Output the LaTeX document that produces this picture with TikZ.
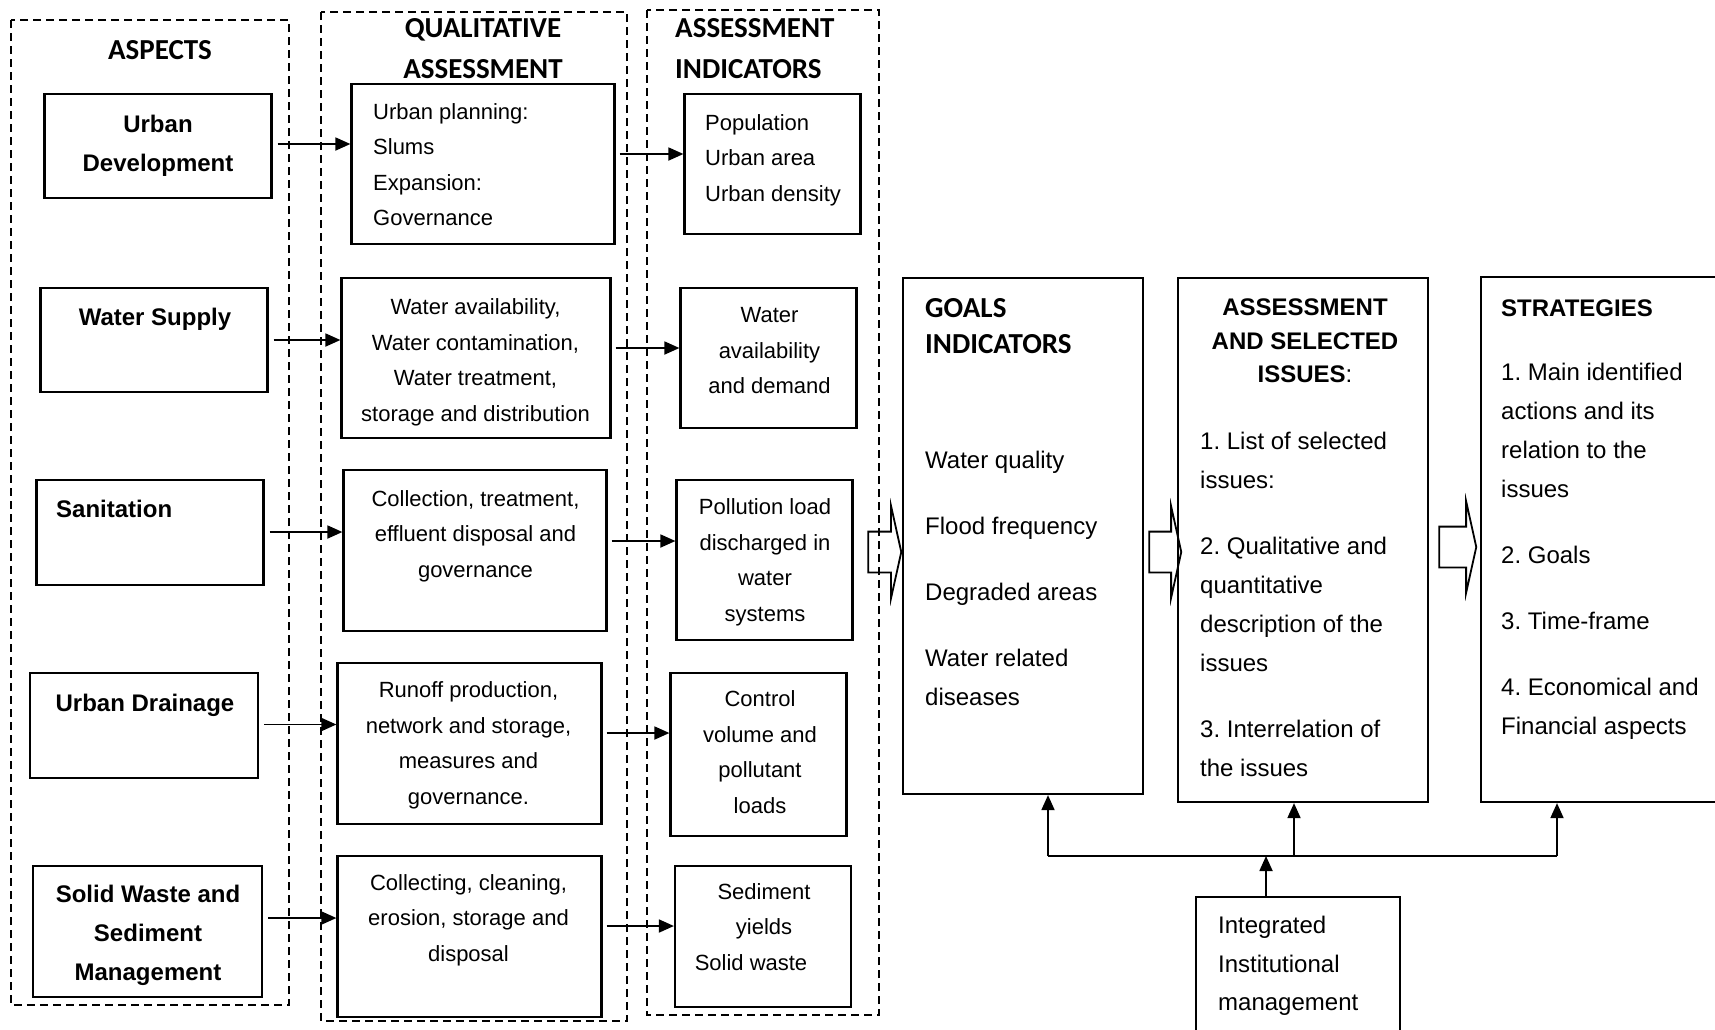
\documentclass[tikz,border=0pt]{standalone}
\usepackage{fontspec}
\setmainfont{Liberation Sans}
\newfontfamily\calibfont{Carlito}
\usetikzlibrary{arrows.meta, shapes.arrows}
\frenchspacing

\begin{document}
\begin{tikzpicture}[x=1pt, y=-1pt,
    box/.style={draw, line width=2.2pt, inner sep=0pt},
    group/.style={draw, line width=1.4pt, dash pattern=on 8pt off 5pt},
    arr/.style={-{Triangle[length=15pt, width=13pt]}, line width=1.8pt},
    blk/.style={single arrow, draw, line width=1.8pt, inner xsep=0pt, inner ysep=19.5pt,
        single arrow head extend=25.5pt, single arrow tip angle=155},
    lbl/.style={inner sep=0pt, execute at begin node=\strut, execute at end node=\strut},
    head/.style={lbl, font=\calibfont\bfseries\fontsize{29}{41}\selectfont, align=center},
    bold/.style={lbl, font=\bfseries\fontsize{24}{39}\selectfont, align=center},
    small/.style={lbl, font=\fontsize{22}{35.5}\selectfont, align=center},
    big/.style={lbl, font=\fontsize{24}{39}\selectfont, align=left},
]
    \useasboundingbox (0,0) rectangle (1715,1029);
    \clip (0,0) rectangle (1715,1029);

    % Dashed columns
    \draw[group] (11,20) rectangle (289,1005);
    \draw[group] (321,12) rectangle (627,1021);
    \draw[group] (647,10) rectangle (879,1015);
    \node[head] (ttl-asp) at (160,51) {ASPECTS};
    \node[head] (ttl-qual) at (483,55) {QUALITATIVE\\ASSESSMENT};
    \node[head, align=left, anchor=west] (ttl-ind) at (675,55) {ASSESSMENT\\INDICATORS};

    % Aspects
    \node[box, minimum width=227pt, minimum height=104pt] (urb) at (158,146) {};
    \node[box, minimum width=227pt, minimum height=104pt] (wat) at (154,340) {};
    \node[box, minimum width=227pt, minimum height=105pt] (san) at (150,532.5) {};
    \node[box, minimum width=228pt, minimum height=105pt] (drn) at (144,725.5) {};
    \node[box, minimum width=229pt, minimum height=131pt] (sol) at (147.5,931.5) {};
    \node[bold] (urb-t) at (158,149) {Urban\\Development};
    \node[bold] (wat-t) at (155,318) {Water Supply};
    \node[bold, anchor=west] (san-t) at (56,510) {Sanitation};
    \node[bold] (drn-t) at (145,704) {Urban Drainage};
    \node[bold] (sol-t) at (148,939) {Solid Waste and\\Sediment\\Management};

    % Qualitative assessment
    \node[box, minimum width=263pt, minimum height=160pt] (qurb) at (483,164) {};
    \node[box, minimum width=269pt, minimum height=160pt] (qwat) at (476,358) {};
    \node[box, minimum width=263pt, minimum height=161pt] (qsan) at (475,550.5) {};
    \node[box, minimum width=264pt, minimum height=161pt] (qdrn) at (469.5,743.5) {};
    \node[box, minimum width=264pt, minimum height=161pt] (qsol) at (469.5,936.5) {};
    \node[small, align=left, anchor=west] (qurb-t) at (373,170) {Urban planning:\\Slums\\Expansion:\\Governance};
    \node[small] (qwat-t) at (475.5,365.5) {Water availability,\\Water contamination,\\Water treatment,\\storage and distribution};
    \node[small] (qsan-t) at (475.5,539) {Collection, treatment,\\effluent disposal and\\governance};
    \node[small] (qdrn-t) at (468.5,748.5) {Runoff production,\\network and storage,\\measures and\\governance.};
    \node[small] (qsol-t) at (468.5,923) {Collecting, cleaning,\\erosion, storage and\\disposal};

    % Assessment indicators
    \node[box, minimum width=176pt, minimum height=140pt] (iurb) at (772.5,164) {};
    \node[box, minimum width=176pt, minimum height=140pt] (iwat) at (768.5,358) {};
    \node[box, minimum width=176pt, minimum height=160pt] (isan) at (764.5,560) {};
    \node[box, minimum width=176pt, minimum height=163pt] (idrn) at (758.5,754.5) {};
    \node[box, minimum width=176pt, minimum height=141pt] (isol) at (763,936.5) {};
    \node[small, align=left, anchor=west] (iurb-t) at (705,163) {Population\\Urban area\\Urban density};
    \node[small] (iwat-t) at (769.5,356) {Water\\availability\\and demand};
    \node[small] (isan-t) at (765,565.5) {Pollution load\\discharged in\\water\\systems};
    \node[small] (idrn-t) at (760,757.5) {Control\\volume and\\pollutant\\loads};
    \node[small] (isol-t) at (764,932) {Sediment\\yields\\Solid waste\hspace*{26pt}};

    % Row arrows
    \foreach \a/\q/\y in {urb/qurb/144, wat/qwat/340, san/qsan/532, drn/qdrn/724.5, sol/qsol/918}
        \draw[arr, shorten <=5pt] (\a.east |- 0,\y) -- (\q.west |- 0,\y);
    \foreach \q/\i/\y in {qurb/iurb/154, qwat/iwat/348, qsan/isan/541, qdrn/idrn/733, qsol/isol/926}
        \draw[arr, shorten <=4pt] (\q.east |- 0,\y) -- (\i.west |- 0,\y);

    % Goals, issues, strategies
    \node[box, minimum width=240pt, minimum height=516pt] (goals) at (1023,536) {};
    \node[box, minimum width=250pt, minimum height=524pt] (issues) at (1303,540) {};
    \node[box, minimum width=241pt, minimum height=525pt] (strat) at (1601.5,539.5) {};
    \node[head, align=left, anchor=west, font=\calibfont\bfseries\fontsize{29}{36}\selectfont] (goals-h) at (925,331) {GOALS\\INDICATORS};
    \node[big, anchor=west] (goals-t) at (925,584) {Water quality\\[27pt]Flood frequency\\[27pt]Degraded areas\\[27pt]Water related\\diseases};
    \node[bold, font=\bfseries\fontsize{24}{33.5}\selectfont] (issues-h) at (1305,346) {ASSESSMENT\\AND SELECTED\\ISSUES{\mdseries:}};
    \node[big, anchor=west] (issues-t) at (1200,610.5) {1. List of selected\\issues:\\[27pt]2. Qualitative and\\quantitative\\description of the\\issues\\[27pt]3. Interrelation of\\the issues};
    \node[bold, anchor=west] (strat-h) at (1501,309) {STRATEGIES};
    \node[big, anchor=west] (strat-t) at (1501,555) {1. Main identified\\actions and its\\relation to the\\issues\\[27pt]2. Goals\\[27pt]3. Time-frame\\[27pt]4. Economical and\\Financial aspects};

    % Hollow arrows
    \node[blk, minimum height=33pt] (blk1) at (882.5,552) {};
    \node[blk, minimum height=32pt] (blk2) at (1163,552) {};
    \node[blk, minimum height=37pt] (blk3) at (1455.5,547) {};

    % Institutional management
    \node[box, minimum width=204pt, minimum height=143pt] (integ) at (1298,968.5) {};
    \node[big, font=\fontsize{24}{38.5}\selectfont, anchor=west] (integ-t) at (1218,969.5) {Integrated\\Institutional\\management};
    \coordinate (bus-l) at (1048,856);
    \coordinate (bus-m) at (1294,856);
    \coordinate (bus-r) at (1557,856);
    \coordinate (feed) at (1266,856);
    \draw[line width=1.8pt] (bus-l) -- (bus-r);
    \draw[arr] (bus-l) -- (goals.south -| bus-l);
    \draw[arr] (bus-m) -- (issues.south -| bus-m);
    \draw[arr] (bus-r) -- (strat.south -| bus-r);
    \draw[arr] (integ.north -| feed) -- (feed);
\end{tikzpicture}
\end{document}
